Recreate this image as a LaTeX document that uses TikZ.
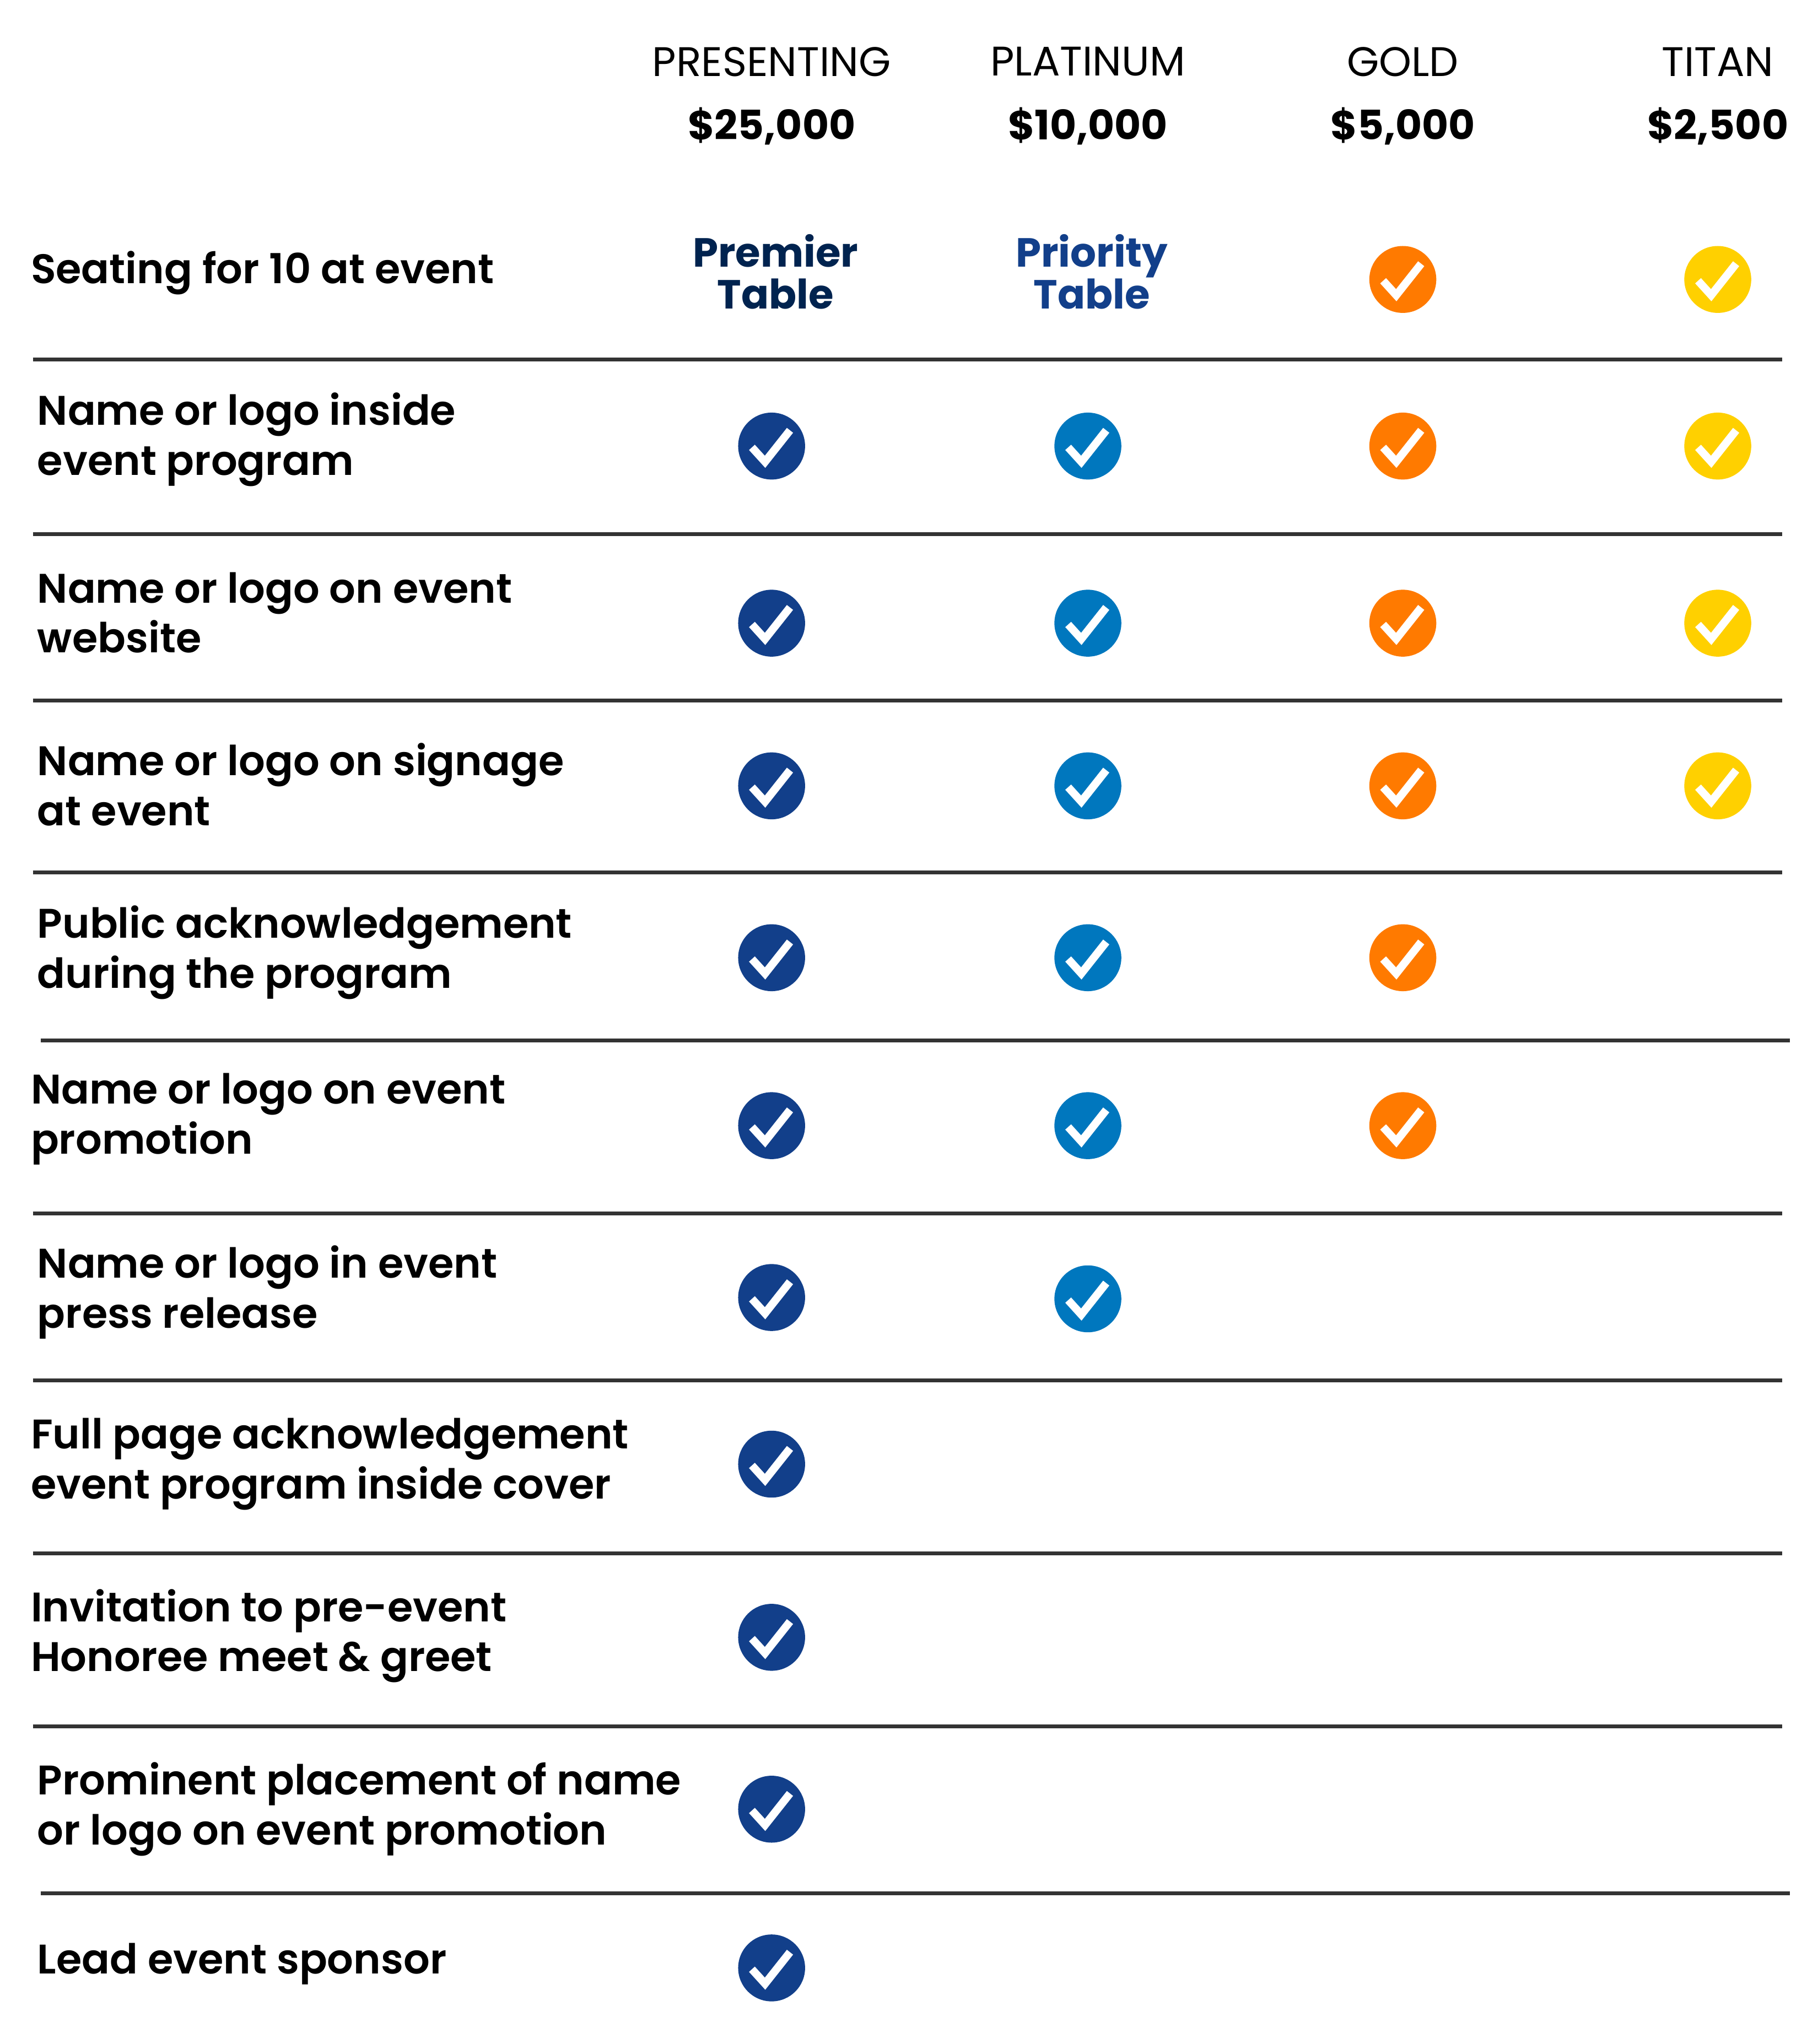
\documentclass[tikz,border=0pt]{standalone}
\usepackage{fontspec}
\setmainfont{Poppins}
\newfontfamily\popb{Poppins SemiBold}
\newfontfamily\popbb{Poppins Bold}
\definecolor{navy}{HTML}{123F8A}
\definecolor{dnavy}{HTML}{00234F}
\definecolor{sky}{HTML}{0077BE}
\definecolor{org}{HTML}{FF7A00}
\definecolor{yel}{HTML}{FFD000}
\definecolor{rule}{HTML}{333333}
\begin{document}
\begin{tikzpicture}[x=1pt,y=-1pt,
  hdr/.style={font=\fontsize{31.5}{34}\selectfont},
  price/.style={font=\fontsize{31}{34}\selectfont\popbb},
  lbl/.style={anchor=west,align=left,font=\fontsize{31.5}{38}\selectfont\popb},
  tbl/.style={align=center,font=\fontsize{31}{32}\selectfont\popbb},
  rl/.style={draw=rule,line width=3pt}]
\useasboundingbox (0,0) rectangle (1385,1558);
\newcommand{\chk}[3]{%
  \fill[#1] (#2,#3) circle (25.5);
  \draw[white,line width=6pt,line join=miter] (#2-15,#3+1) -- (#2-5,#3+12) -- (#2+14,#3-12);}
\node[hdr] (h1) at (588,47) {PRESENTING};
\node[hdr] (h2) at (829,47) {PLATINUM};
\node[hdr] (h3) at (1069,47) {GOLD};
\node[hdr] (h4) at (1309,47) {TITAN};
\node[price] (p1) at (588,96) {\$25,000};
\node[price] (p2) at (829,96) {\$10,000};
\node[price] (p3) at (1069,96) {\$5,000};
\node[price] (p4) at (1309,96) {\$2,500};
\node[tbl,text=dnavy] (t1) at (591,207) {Premier\\Table};
\node[tbl,text=navy] (t2) at (832,207) {Priority\\Table};
\node[lbl] (r1) at (20,208) {Seating for 10 at event};
\node[lbl] (r2) at (25,335) {Name or logo inside\\event program};
\node[lbl] (r3) at (25,467) {Name or logo on event\\website};
\node[lbl] (r4) at (25,598) {Name or logo on signage\\at event};
\node[lbl] (r5) at (25,726) {Public acknowledgement\\during the program};
\node[lbl] (r6) at (20,853) {Name or logo on event\\promotion};
\node[lbl] (r7) at (25,985) {Name or logo in event\\press release};
\node[lbl] (r8) at (20,1116) {Full page acknowledgement\\event program inside cover};
\node[lbl] (r9) at (20,1247) {Invitation to pre-event\\Honoree meet \& greet};
\node[lbl] (r10) at (25,1379) {Prominent placement of name\\or logo on event promotion};
\node[lbl] (r11) at (25,1497) {Lead event sponsor};
\foreach \y in {274,407,534,665,925,1052,1184,1316} \draw[rl] (25,\y) -- (1358,\y);
\foreach \y in {793,1443} \draw[rl] (31,\y) -- (1364,\y);
\chk{org}{1069}{213}\chk{yel}{1309}{213}
\foreach \y in {340,475,599} {\chk{navy}{588}{\y}\chk{sky}{829}{\y}\chk{org}{1069}{\y}\chk{yel}{1309}{\y}}
\foreach \y in {730,858} {\chk{navy}{588}{\y}\chk{sky}{829}{\y}\chk{org}{1069}{\y}}
\chk{navy}{588}{989}\chk{sky}{829}{990}
\foreach \y in {1116,1248,1379,1500} {\chk{navy}{588}{\y}}
\end{tikzpicture}
\end{document}
